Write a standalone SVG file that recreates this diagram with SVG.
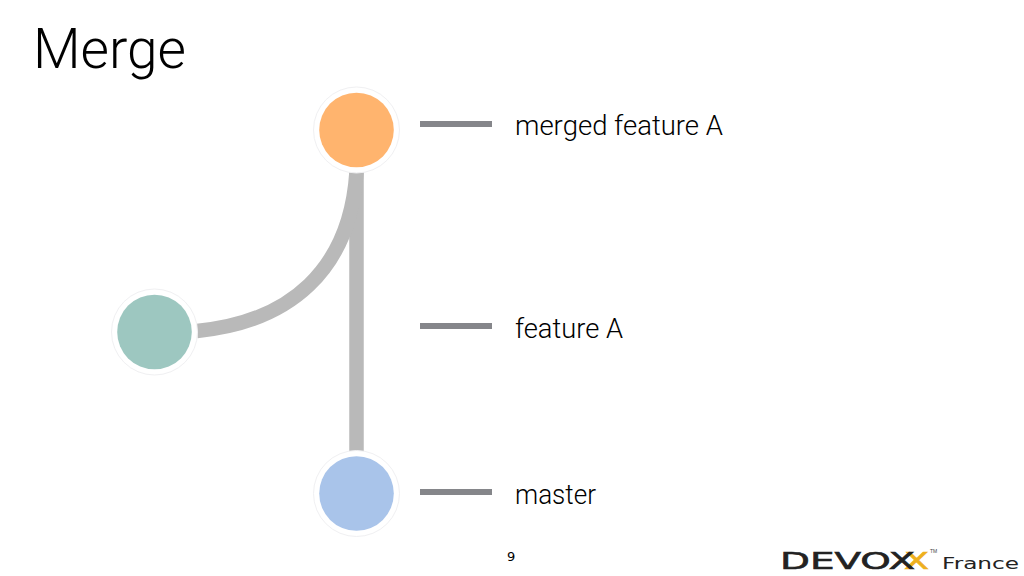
<svg xmlns="http://www.w3.org/2000/svg" width="1024" height="576" viewBox="0 0 1024 576">
<style>
text{font-family:"Roboto","Liberation Sans",sans-serif;font-weight:300;fill:#000}
.ring{fill:#fff;stroke:#f0f0f2;stroke-width:1}
.edge{fill:none;stroke:#b9b9b9;stroke-width:14.5}
.tick{stroke:#85868a;stroke-width:6}
.label{font-size:27px}
.logo{font-family:"DejaVu Sans",sans-serif;font-weight:400;font-size:23.5px}
</style>
<rect width="1024" height="576" fill="#fff"/>
<text x="33" y="68" font-size="56" textLength="153" lengthAdjust="spacingAndGlyphs">Merge</text>
<g id="connectors">
<path class="edge" d="M356.5 172V452"/>
<path class="edge" d="M197 331C290 322 350 270 356.5 172"/>
<line class="tick" x1="420" y1="124" x2="492" y2="124"/>
<line class="tick" x1="420" y1="326" x2="492" y2="326"/>
<line class="tick" x1="420" y1="492" x2="492" y2="492"/>
</g>
<g id="node-merged"><circle class="ring" cx="356.5" cy="130" r="43"/><circle cx="356.5" cy="130" r="37.3" fill="#ffb46e"/></g>
<g id="node-feature"><circle class="ring" cx="154.5" cy="332" r="43"/><circle cx="154.5" cy="332" r="37.3" fill="#9dc7c0"/></g>
<g id="node-master"><circle class="ring" cx="356.5" cy="493.5" r="43"/><circle cx="356.5" cy="493.5" r="37.3" fill="#a9c4ea"/></g>
<text class="label" x="515" y="135" textLength="208" lengthAdjust="spacingAndGlyphs">merged feature A</text>
<text class="label" x="515" y="338" textLength="108" lengthAdjust="spacingAndGlyphs">feature A</text>
<text class="label" x="515" y="504" textLength="81" lengthAdjust="spacingAndGlyphs">master</text>
<text x="507" y="561" font-size="13" style="font-family:'DejaVu Sans',sans-serif;font-weight:400" fill="#222">9</text>
<g id="logo">
<text class="logo" x="904" y="569" textLength="25" lengthAdjust="spacingAndGlyphs" style="fill:#eeb01e;stroke:#eeb01e;stroke-width:.6">X</text>
<text class="logo" x="780" y="569" textLength="135" lengthAdjust="spacingAndGlyphs" style="fill:#222;stroke:#222;stroke-width:.6">DEVOX</text>
<text x="930" y="553" font-size="5" style="font-family:'Liberation Sans',sans-serif;font-weight:400;fill:#444">TM</text>
<text x="942" y="569" font-size="16" textLength="77" lengthAdjust="spacingAndGlyphs" style="font-family:'DejaVu Sans',sans-serif;font-weight:400;fill:#222">France</text>
</g>
</svg>
